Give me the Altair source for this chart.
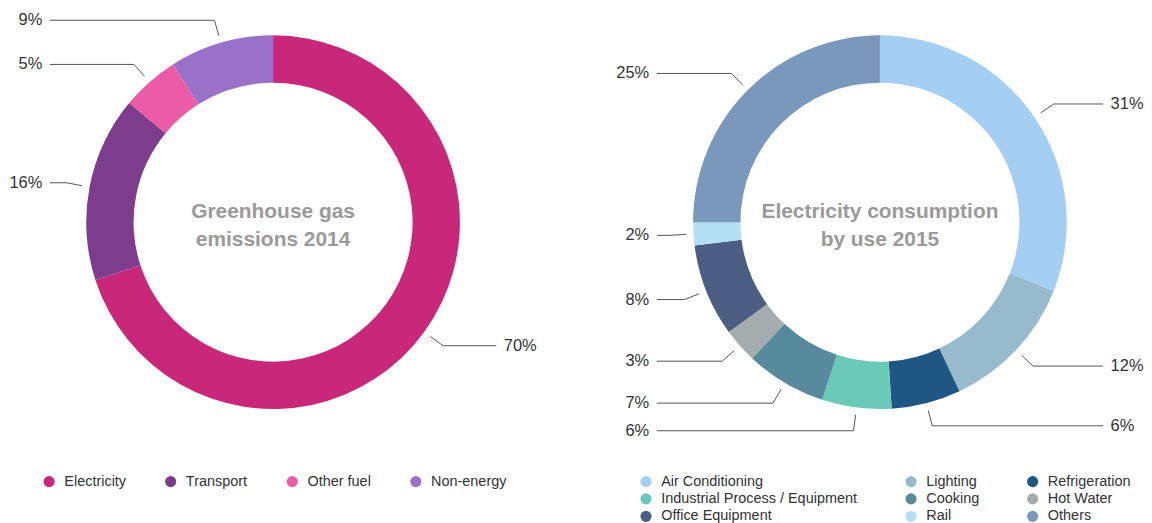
import altair as alt
import pandas as pd

# ---- data ----
ghg_title = "Greenhouse gas\nemissions 2014"
ghg_cats = ["Electricity", "Transport", "Other fuel", "Non-energy"]
ghg_vals = [70, 16, 5, 9]
ghg_colors = ["#C9287A", "#7D3C8C", "#EC5BA5", "#9A71C9"]

use_title = "Electricity consumption\nby use 2015"
use_cats = ["Air Conditioning", "Lighting", "Refrigeration",
            "Industrial Process / Equipment", "Cooking", "Hot Water",
            "Office Equipment", "Rail", "Others"]
use_vals = [31, 12, 6, 6, 7, 3, 8, 2, 25]
use_colors = ["#A5CFF2", "#97BBCC", "#1F5683", "#6ACAB7", "#578A9C",
              "#A5ACAE", "#4B5D82", "#B3E0F5", "#7A97BC"]

# ---- style / layout ----
FONT = "Helvetica Neue, Helvetica, Liberation Sans, Arial, sans-serif"
R_OUT, R_IN = 187.5, 140
R1, R2 = 195, 211      # leader line: start radius, elbow radius
XL, GAP = 224, 7.5     # leader line end, label offset
H = 428


def donut(title, cats, vals, colors, width, legend_x, legend_cols, col_pad):
    df = pd.DataFrame({"cat": cats, "val": vals, "idx": list(range(len(cats)))})
    base = alt.Chart(df)
    xs = alt.Scale(domain=[-width / 2, width / 2], nice=False, zero=False)
    ys = alt.Scale(domain=[-H / 2, H / 2], nice=False, zero=False)

    arcs = base.mark_arc(innerRadius=R_IN, outerRadius=R_OUT).encode(
        theta=alt.Theta("val:Q", stack=True),
        order=alt.Order("idx:Q"),
        color=alt.Color(
            "cat:N",
            sort=cats,
            scale=alt.Scale(domain=cats, range=colors),
            legend=alt.Legend(
                orient="none", legendX=legend_x, legendY=467,
                direction="horizontal", columns=legend_cols,
                title=None, symbolType="circle", symbolSize=125,
                symbolStrokeWidth=0, labelFontSize=14.5, labelFont=FONT,
                labelColor="#333333", labelOffset=8,
                columnPadding=col_pad, rowPadding=2.5, padding=0,
                labelLimit=400,
            ),
        ),
    )

    geo = (
        base.transform_joinaggregate(total="sum(val)")
        .transform_window(cum="sum(val)", sort=[alt.SortField("idx")], frame=[None, 0])
        .transform_calculate(a="2*PI*(datum.cum - datum.val/2)/datum.total")
        .transform_calculate(
            side="sin(datum.a) < 0 ? -1 : 1",
            x1=f"{R1}*sin(datum.a)", y1=f"{R1}*cos(datum.a)",
            x2=f"{R2}*sin(datum.a)", y2=f"{R2}*cos(datum.a)",
            label="round(100*datum.val/datum.total) + '%'",
        )
        .transform_calculate(x3=f"datum.side*{XL}", xl=f"datum.side*{XL + GAP}")
    )

    seg1 = geo.mark_rule(color="#555555", strokeWidth=1).encode(
        x=alt.X("x1:Q", scale=xs, axis=None), y=alt.Y("y1:Q", scale=ys, axis=None),
        x2="x2:Q", y2="y2:Q",
    )
    seg2 = geo.mark_rule(color="#555555", strokeWidth=1).encode(
        x=alt.X("x2:Q", scale=xs, axis=None), y=alt.Y("y2:Q", scale=ys, axis=None),
        x2="x3:Q",
    )
    txt_kw = dict(fontSize=16.5, font=FONT, color="#333333", baseline="middle")
    lab_l = geo.transform_filter("datum.side < 0").mark_text(align="right", **txt_kw).encode(
        x=alt.X("xl:Q", scale=xs, axis=None), y=alt.Y("y2:Q", scale=ys, axis=None), text="label:N"
    )
    lab_r = geo.transform_filter("datum.side > 0").mark_text(align="left", **txt_kw).encode(
        x=alt.X("xl:Q", scale=xs, axis=None), y=alt.Y("y2:Q", scale=ys, axis=None), text="label:N"
    )
    center = alt.Chart(pd.DataFrame({"t": [title]})).mark_text(
        lineBreak="\n", fontSize=21, fontWeight="bold", font=FONT, color="#9A9A9A",
        lineHeight=28, align="center", baseline="middle", dy=-10,
    ).encode(
        x=alt.X(datum=0, scale=xs, axis=None), y=alt.Y(datum=0, scale=ys, axis=None), text="t:N"
    )
    return alt.layer(arcs, seg1, seg2, lab_l, lab_r, center).properties(width=width, height=H)


left = donut(ghg_title, ghg_cats, ghg_vals, ghg_colors, 532, 34, 4, 37)
right = donut(use_title, use_cats, use_vals, use_colors, 522, 19, 3, 46)

chart = (
    alt.hconcat(left, right, spacing=82, bounds="flush")
    .resolve_scale(color="independent", x="independent", y="independent")
    .properties(padding=0)
    .configure_view(stroke=None)
)

chart.save("out.html", embed_options={"renderer": "svg", "actions": False})
